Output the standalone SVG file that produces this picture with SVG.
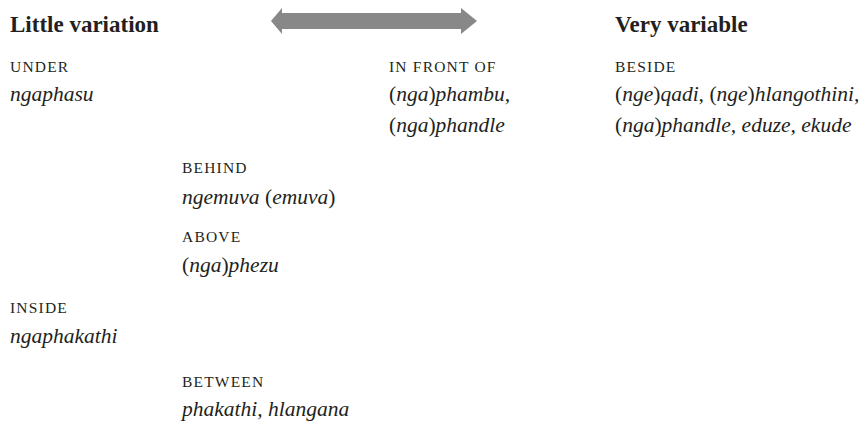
<svg xmlns="http://www.w3.org/2000/svg" width="863" height="421" viewBox="0 0 863 421">
<style>
text{font-family:"Liberation Serif","DejaVu Serif",serif;fill:#231f20}
.h{font-weight:bold;font-size:23px}
.sc{font-size:15.5px;letter-spacing:1.2px}
.it{font-style:italic;font-size:21.5px}
.up{font-style:normal}
</style>
<rect width="863" height="421" fill="#fff"/>
<g id="connectors">
<polygon id="scale-arrow" points="271,21 282,8 282,13 461,13 461,8 477,21 461,34 461,29 282,29 282,34" fill="#888"/>
</g>
<g id="heading-little"><text class="h" x="10" y="32">Little variation</text></g>
<g id="heading-very"><text class="h" x="615" y="32">Very variable</text></g>
<g id="under"><text class="sc" x="10" y="72">UNDER</text><text class="it" x="10" y="101">ngaphasu</text></g>
<g id="in-front-of"><text class="sc" x="389" y="72">IN FRONT OF</text><text class="it" x="389" y="101"><tspan class="up">(</tspan>nga<tspan class="up">)</tspan>phambu,</text><text class="it" x="389" y="132"><tspan class="up">(</tspan>nga<tspan class="up">)</tspan>phandle</text></g>
<g id="beside"><text class="sc" x="615" y="72">BESIDE</text><text class="it" x="615" y="101"><tspan class="up">(</tspan>nge<tspan class="up">)</tspan>qadi, <tspan class="up">(</tspan>nge<tspan class="up">)</tspan>hlangothini,</text><text class="it" x="615" y="132"><tspan class="up">(</tspan>nga<tspan class="up">)</tspan>phandle, eduze, ekude</text></g>
<g id="behind"><text class="sc" x="182" y="173">BEHIND</text><text class="it" x="182" y="204">ngemuva <tspan class="up">(</tspan>emuva<tspan class="up">)</tspan></text></g>
<g id="above"><text class="sc" x="182" y="242">ABOVE</text><text class="it" x="182" y="272"><tspan class="up">(</tspan>nga<tspan class="up">)</tspan>phezu</text></g>
<g id="inside"><text class="sc" x="10" y="313">INSIDE</text><text class="it" x="10" y="343">ngaphakathi</text></g>
<g id="between"><text class="sc" x="182" y="387">BETWEEN</text><text class="it" x="182" y="416">phakathi, hlangana</text></g>
</svg>
